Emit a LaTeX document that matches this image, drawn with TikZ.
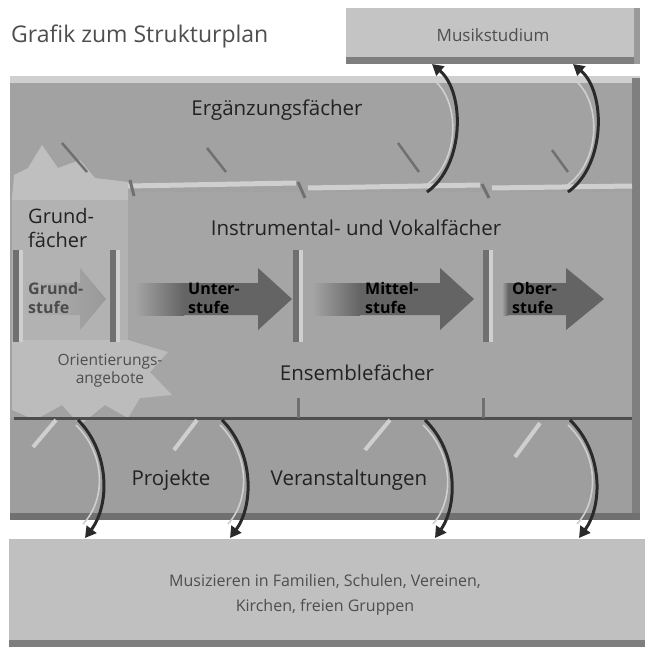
\documentclass[tikz,border=0pt]{standalone}
\usepackage{fontspec}
\setmainfont{Open Sans}
\usetikzlibrary{arrows.meta}
\definecolor{panel}{HTML}{A2A2A2}
\definecolor{panelmid}{HTML}{A5A5A5}
\definecolor{panellow}{HTML}{9E9E9E}
\definecolor{grundbg}{HTML}{B2B2B2}
\definecolor{burst}{HTML}{BFBFBF}
\definecolor{hilite}{HTML}{CFCFCF}
\definecolor{shadowc}{HTML}{707070}
\definecolor{darkline}{HTML}{2A2A2A}
\definecolor{boxbg}{HTML}{C4C4C4}
\definecolor{boxedge}{HTML}{7E7E7E}
\definecolor{lowbox}{HTML}{C0C0C0}
\definecolor{txt}{HTML}{222222}
\definecolor{txtsoft}{HTML}{4E4E4E}
\definecolor{stagedark}{HTML}{646464}
\tikzset{
  lbl/.style={text=txt, font=\fontsize{20.5}{24}\selectfont, inner sep=0pt},
  softlbl/.style={text=txtsoft, font=\fontsize{15.5}{18}\selectfont, inner sep=0pt, align=center},
  stagelbl/.style={text=black, font=\bfseries\fontsize{16}{19}\selectfont, inner sep=0pt, align=left, anchor=west},
  curv/.style={draw=darkline, line width=3pt, -{Triangle[length=11pt,width=12pt]}},
  curvhi/.style={draw=hilite, line width=1.6pt},
  ribbon/.style={draw=hilite, line width=5pt},
  notch/.style={draw=shadowc, line width=3pt},
  darkdiag/.style={draw=shadowc, line width=2.5pt},
  lightdiag/.style={draw=hilite, line width=4pt},
}
\newcommand\vdiv[1]{\fill[shadowc] (#1,250) rectangle ++(6,92);\fill[hilite] (#1+6,250) rectangle ++(4,92);}
% #1 fade start, #2 solid start, #3 head base, #4 tip, #5 colour
\newcommand\stagearr[5]{%
  \shade[left color=panelmid, right color=#5] (#1,283) rectangle (#2,315);
  \fill[#5] (#2,283) -- (#3,283) -- (#3,268) -- (#4,299) -- (#3,330) -- (#3,315) -- (#2,315) -- cycle;}
\begin{document}
\begin{tikzpicture}[x=1pt,y=-1pt]
\useasboundingbox (0,0) rectangle (651,653);
\fill[white] (0,0) rectangle (651,653);

% title
\node[anchor=west, text=txtsoft, font=\fontsize{23}{27}\selectfont, inner sep=0pt] (title) at (11,36) {Grafik zum Strukturplan};

% top box
\node[fill=boxbg, minimum width=294pt, minimum height=54pt, inner sep=0pt, text=txtsoft, font=\fontsize{17}{20}\selectfont] (studium) at (493,35) {Musikstudium};
\fill[boxedge] (346,57) rectangle (640,64);
\fill[boxedge!60!boxbg] (634,8) rectangle (640,64);

% main panel
\fill[panel] (10,78) rectangle (640,520);
\fill[hilite] (10,76) rectangle (640,83);
\fill[panelmid] (128,192) rectangle (634,416);
\fill[panellow] (10,418) rectangle (634,514);
\fill[shadowc!70!panel] (632,78) rectangle (640,520);
\fill[shadowc] (10,513) rectangle (640,520);

% Grundfaecher column and light bursts
\fill[grundbg] (12,192) rectangle (128,345);
\fill[burst] (12,200) -- (14,175) -- (28,168) -- (42,145) -- (58,168) -- (80,160) -- (95,178) -- (128,182) -- (128,200) -- cycle;
\fill[burst!90!panel] (12,340) -- (128,340) -- (168,352) -- (150,372) -- (172,395) -- (140,398) -- (128,418) -- (105,405) -- (80,425) -- (62,405) -- (35,420) -- (12,410) -- cycle;

% upper ribbon
\draw[ribbon] (128,186) -- (296,183);
\draw[ribbon] (308,188) -- (480,185);
\draw[ribbon] (492,188) -- (632,186);
\draw[notch] (130,180) -- (134,196);
\draw[notch] (298,182) -- (305,198);
\draw[notch] (482,184) -- (489,198);
% lower ribbon
\draw[draw=darkline!70!panel, line width=3pt] (14,418) -- (632,418);
\draw[notch] (298,398) -- (298,418);
\draw[notch] (483,398) -- (483,418);

% diagonals
\draw[darkdiag] (62,143) -- (87,172);
\draw[darkdiag] (207,148) -- (226,172);
\draw[darkdiag] (398,143) -- (419,172);
\draw[darkdiag] (552,150) -- (568,172);
\draw[lightdiag] (33,447) -- (56,420);
\draw[lightdiag] (174,450) -- (197,420);
\draw[lightdiag] (365,450) -- (390,420);
\draw[lightdiag] (515,457) -- (540,423);

% dividers
\vdiv{13}
\vdiv{110}
\vdiv{293}
\vdiv{483}

% stage arrows
\shade[left color=grundbg, right color=black!40] (25,283) -- (80,283) -- (80,268) -- (106,299) -- (80,330) -- (80,315) -- (25,315) -- cycle;
\stagearr{135}{184}{258}{292}{stagedark}
\stagearr{312}{360}{440}{474}{stagedark}
\stagearr{502}{508}{566}{604}{stagedark}

% labels
\node[lbl] (erg) at (277,110) {Ergänzungsfächer};
\node[lbl, align=left, anchor=west, font=\fontsize{20}{24}\selectfont] (grundf) at (28,228) {Grund-\\fächer};
\node[lbl] (instr) at (356,228) {Instrumental- und Vokalfächer};
\node[stagelbl, text=black!70] (s1) at (28,298) {Grund-\\stufe};
\node[stagelbl] (s2) at (188,298) {Unter-\\stufe};
\node[stagelbl] (s3) at (365,298) {Mittel-\\stufe};
\node[stagelbl] (s4) at (512,298) {Ober-\\stufe};
\node[softlbl] (orient) at (110,371) {Orientierungs-\\angebote};
\node[lbl] (ens) at (357,373) {Ensemblefächer};
\node[lbl] (proj) at (171,480) {Projekte};
\node[lbl] (veran) at (349,480) {Veranstaltungen};

% bottom box
\node[fill=lowbox, minimum width=636pt, minimum height=106pt, inner sep=0pt] (lowerbox) at (327,592) {};
\fill[boxedge] (9,640) rectangle (645,647);
\node[softlbl, font=\fontsize{16}{25}\selectfont] (musiz) at (325,595) {Musizieren in Familien, Schulen, Vereinen,\\Kirchen, freien Gruppen};

% curved arrows up
\coordinate (u1s) at (427,192); \coordinate (u1e) at (432,64);
\coordinate (u2s) at (568,192); \coordinate (u2e) at (573,64);
\draw[curvhi] (425,186) .. controls (461,162) and (461,98) .. (431,78);
\draw[curv] (u1s) .. controls (465,165) and (465,92) .. (u1e);
\draw[curvhi] (566,186) .. controls (602,162) and (602,98) .. (572,78);
\draw[curv] (u2s) .. controls (606,165) and (606,92) .. (u2e);

% curved arrows down
\coordinate (d1s) at (78,420); \coordinate (d1e) at (85,538);
\coordinate (d2s) at (222,420); \coordinate (d2e) at (230,538);
\coordinate (d3s) at (425,420); \coordinate (d3e) at (435,538);
\coordinate (d4s) at (570,420); \coordinate (d4e) at (579,538);
\draw[curvhi] (76,425) .. controls (106,455) and (106,500) .. (83,524);
\draw[curv] (d1s) .. controls (110,452) and (110,505) .. (d1e);
\draw[curvhi] (220,425) .. controls (250,455) and (250,500) .. (228,524);
\draw[curv] (d2s) .. controls (254,452) and (254,505) .. (d2e);
\draw[curvhi] (423,425) .. controls (454,455) and (454,500) .. (433,524);
\draw[curv] (d3s) .. controls (458,452) and (458,505) .. (d3e);
\draw[curvhi] (568,425) .. controls (599,455) and (599,500) .. (577,524);
\draw[curv] (d4s) .. controls (603,452) and (603,505) .. (d4e);
\end{tikzpicture}
\end{document}
